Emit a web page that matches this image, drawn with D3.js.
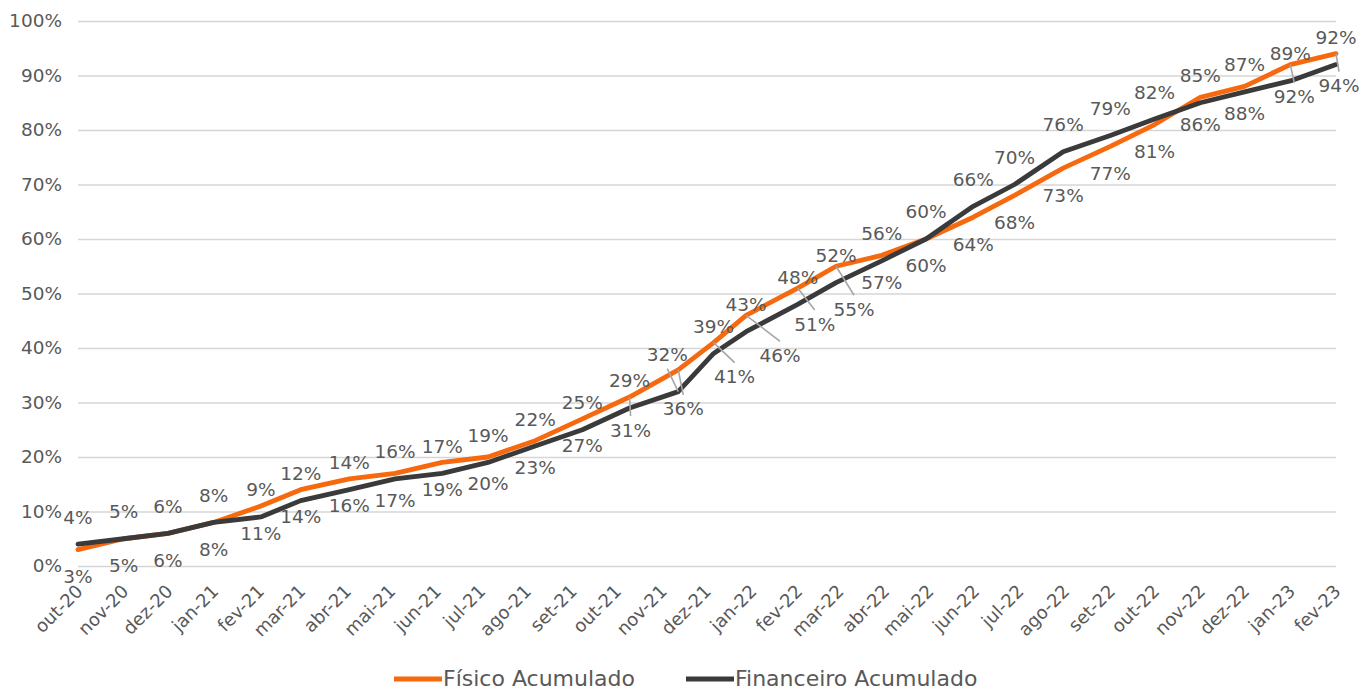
<!DOCTYPE html>
<html lang="pt">
<head>
<meta charset="utf-8">
<script src="https://cdn.jsdelivr.net/npm/d3@7"></script>
<style>
  html, body { margin: 0; padding: 0; background: #fff; }
  svg text { font-family: "DejaVu Sans", Verdana, sans-serif; fill: #595959; }
</style>
</head>
<body>
<svg id="chart" width="1362" height="691"></svg>
<script>
// Month labels shown on the horizontal axis
const monthLabels = ["out-20","nov-20","dez-20","jan-21","fev-21","mar-21","abr-21","mai-21","jun-21","jul-21",
  "ago-21","set-21","out-21","nov-21","dez-21","jan-22","fev-22","mar-22","abr-22","mai-22",
  "jun-22","jul-22","ago-22","set-22","out-22","nov-22","dez-22","jan-23","fev-23"];

// Date each cumulative measurement was taken
const measureDates = ["2020-10-01","2020-11-01","2020-12-01","2021-01-01","2021-02-02","2021-03-01","2021-04-03",
  "2021-05-04","2021-06-05","2021-07-06","2021-08-07","2021-09-08","2021-10-10","2021-11-12","2021-12-06",
  "2021-12-28","2022-02-01","2022-02-27","2022-03-30","2022-04-29","2022-05-31","2022-06-28","2022-07-31",
  "2022-09-01","2022-10-01","2022-11-01","2022-12-01","2023-01-01","2023-02-01"];

// Cumulative progress (%)
const fisico = [3,5,6,8,11,14,16,17,19,20,23,27,31,36,41,46,51,55,57,60,64,68,73,77,81,86,88,92,94];
const financeiro = [4,5,6,8,9,12,14,16,17,19,22,25,29,32,39,43,48,52,56,60,66,70,76,79,82,85,87,89,92];

// Y axis ticks (%)
const yTicks = [0,10,20,30,40,50,60,70,80,90,100];

const seriesNames = ["Físico Acumulado", "Financeiro Acumulado"];
const seriesColors = ["#F7690F", "#3A3A3A"];

// ---- layout ----
const svg = d3.select("#chart");
const plot = { left: 78, right: 1336, top: 21, bottom: 566 };
const fontSize = "18.5px";

const ptMonths = {jan:0,fev:1,mar:2,abr:3,mai:4,jun:5,jul:6,ago:7,set:8,out:9,nov:10,dez:11};
const monthStart = s => { const [m, yy] = s.split("-"); return new Date(2000 + +yy, ptMonths[m], 1); };
const tickDates = monthLabels.map(monthStart);
const parse = d3.timeParse("%Y-%m-%d");
const dates = measureDates.map(parse);

const x = d3.scaleTime().domain([tickDates[0], tickDates[tickDates.length - 1]]).range([plot.left, plot.right]);
const y = d3.scaleLinear().domain([0, 100]).range([plot.bottom, plot.top]);

// gridlines + y labels
const yAxis = svg.append("g")
  .attr("transform", `translate(${plot.left},0)`)
  .call(d3.axisLeft(y).tickValues(yTicks).tickFormat(d => d + "%")
    .tickSize(-(plot.right - plot.left)).tickPadding(16));
yAxis.select(".domain").remove();
yAxis.selectAll(".tick line").attr("stroke", "#d6d6d6").attr("stroke-width", 1.6);
yAxis.selectAll(".tick text").style("font-size", fontSize).attr("fill", "#595959");

// x labels (rotated)
const xAxis = svg.append("g")
  .attr("transform", `translate(0,${plot.bottom})`)
  .call(d3.axisBottom(x).tickValues(tickDates).tickFormat((d, i) => monthLabels[i]).tickSize(0));
xAxis.select(".domain").remove();
xAxis.selectAll(".tick text")
  .style("font-size", "18px").attr("fill", "#595959")
  .attr("x", 0).attr("y", 0).attr("dy", "0.35em")
  .attr("text-anchor", "end")
  .attr("transform", "translate(1,22) rotate(-45)");

// lines
const rows = dates.map((d, i) => ({ date: d, fis: fisico[i], fin: financeiro[i] }));
const line = key => d3.line().x(d => x(d.date)).y(d => y(d[key]));

svg.append("path").datum(rows)
  .attr("fill", "none").attr("stroke", seriesColors[0]).attr("stroke-width", 4.8)
  .attr("stroke-linejoin", "round").attr("stroke-linecap", "round")
  .attr("d", line("fis"));
svg.append("path").datum(rows)
  .attr("fill", "none").attr("stroke", seriesColors[1]).attr("stroke-width", 4.8)
  .attr("stroke-linejoin", "round").attr("stroke-linecap", "round")
  .attr("d", line("fin"));

// data labels: financeiro above its point, físico below; some are moved aside with leader lines
const moved = {
  fin: { 13: [-11, -10] },
  fis: { 12: [1, 6], 13: [5, 12], 14: [21, 7], 15: [34, 13], 16: [17, 9], 17: [18, 16], 27: [4, 5], 28: [3, 5] }
};
const labelGap = 27, labelHalfH = 14;
const leaders = svg.append("g");
const labels = svg.append("g").style("font-size", fontSize);

[["fin", -1], ["fis", 1]].forEach(([key, side]) => {
  rows.forEach((d, i) => {
    const px = x(d.date), py = y(d[key]);
    const nudge = moved[key][i] || [0, 0];
    const lx = px + nudge[0], ly = py + side * labelGap + nudge[1];
    labels.append("text")
      .attr("x", lx).attr("y", ly).attr("dy", "0.35em")
      .attr("text-anchor", "middle").attr("fill", "#595959")
      .text(d[key] + "%");
    if (moved[key][i]) {
      leaders.append("line")
        .attr("x1", px).attr("y1", py)
        .attr("x2", lx).attr("y2", ly - side * labelHalfH)
        .attr("stroke", "#a6a6a6").attr("stroke-width", 1.6);
    }
  });
});

// legend
const legend = svg.append("g");
const legendItems = [{ x: 394, name: seriesNames[0], color: seriesColors[0] },
                     { x: 686, name: seriesNames[1], color: seriesColors[1] }];
legendItems.forEach(it => {
  legend.append("line").attr("x1", it.x).attr("x2", it.x + 48).attr("y1", 679).attr("y2", 679)
    .attr("stroke", it.color).attr("stroke-width", 4.8);
  legend.append("text").attr("x", it.x + 49).attr("y", 686)
    .style("font-size", "22px").attr("fill", "#595959").text(it.name);
});
</script>
</body>
</html>
